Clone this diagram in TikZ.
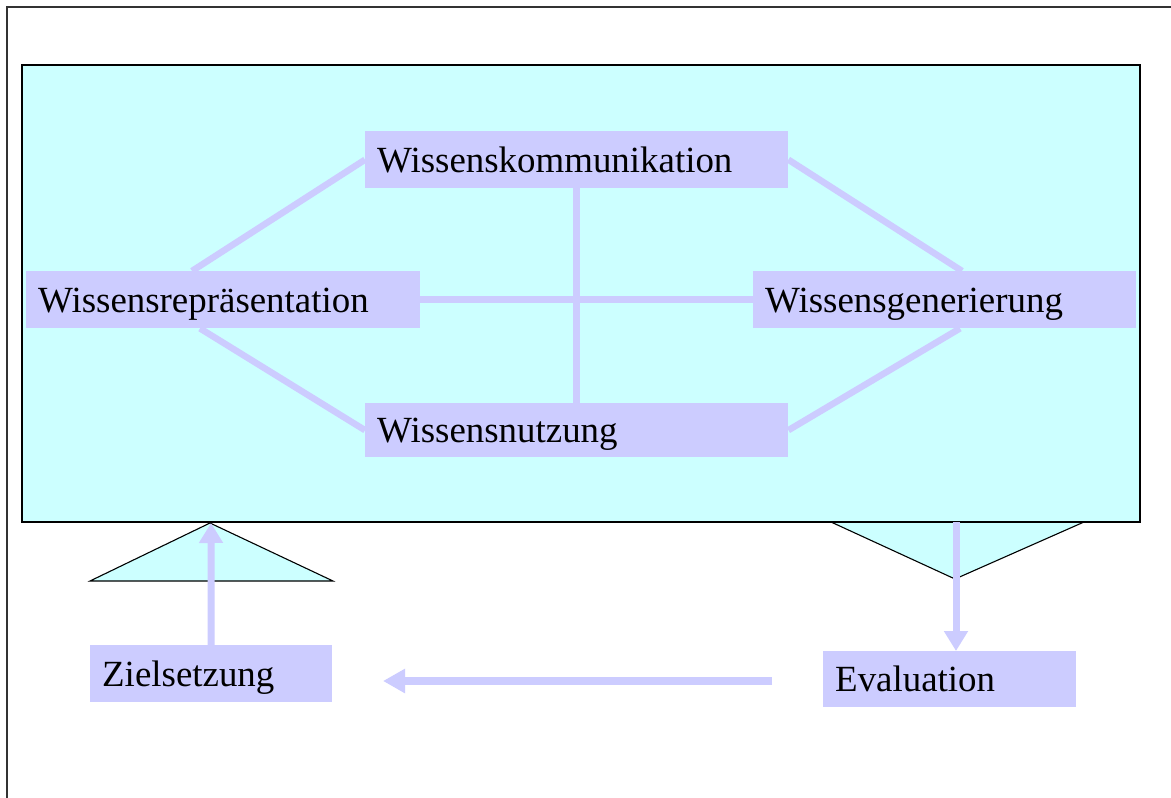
\documentclass[tikz,border=0pt]{standalone}
\usepackage{fontspec}
\setmainfont{Liberation Serif}
\usetikzlibrary{arrows.meta}
\definecolor{cyanbg}{HTML}{CCFFFF}
\definecolor{boxc}{HTML}{CCCCFF}
\tikzset{
  kbox/.style={fill=boxc, draw=none, anchor=north west, inner xsep=12pt, inner ysep=0pt,
    align=left, font=\fontsize{36.9pt}{40pt}\selectfont, text height=25.7pt, text depth=0.7pt},
  link/.style={draw=boxc, line width=6.5pt},
  arr/.style={draw=boxc, line width=7pt, -{Triangle[length=20pt,width=23pt]}},
  frameline/.style={draw=black!80, line width=2pt},
  tri/.style={fill=cyanbg, draw=black, line width=1.1pt, line join=miter}
}
\begin{document}
\begin{tikzpicture}[x=1pt,y=-1pt]
\useasboundingbox (0,0) rectangle (1171,798);
\fill[white] (0,0) rectangle (1171,798);
% outer frame (left and top visible)
\draw[frameline] (7,798) -- (7,7) -- (1171,7);
% triangles below the cyan panel
\fill[cyanbg] (210,523) -- (90,581) -- (333,581) -- cycle;
\draw[black, line width=1.1pt] (90,581) -- (210,523) -- (333,581) -- cycle;
\fill[cyanbg] (831,522) -- (955,579) -- (1084,522) -- cycle;
\draw[black, line width=1.1pt] (831,522) -- (955,579) -- (1084,522);
% main cyan panel
\draw[fill=cyanbg, draw=black, line width=1.2pt] (22,65) rectangle (1140,522);
% nodes
\node[kbox, text width=399, minimum height=57] (kom) at (365,131) {Wissenskommunikation};
\node[kbox, text width=399, minimum height=54] (nut) at (365,403) {Wissensnutzung};
\node[kbox, text width=370, minimum height=57] (rep) at (26,271) {Wissensrepräsentation};
\node[kbox, text width=359, minimum height=57] (gen) at (753,271) {Wissensgenerierung};
\node[kbox, text width=218, minimum height=57] (ziel) at (90,645) {Zielsetzung};
\node[kbox, text width=229, minimum height=56] (eval) at (823,651) {Evaluation};
% links
\draw[link] ([xshift=166]rep.north west) -- (kom.west);
\draw[link] ([xshift=174]rep.south west) -- (nut.west);
\draw[link] (kom.east) -- ([xshift=209]gen.north west);
\draw[link] (nut.east) -- ([xshift=207]gen.south west);
\draw[link] (rep.east) -- (gen.west);
\draw[link] (kom.south) -- (nut.north);
% arrows
\coordinate (tipL) at (211,523);
\coordinate (tipR) at (956,522);
\coordinate (hs) at (772,681);
\coordinate (he) at (383,681);
\draw[arr] (ziel.north) -- (tipL);
\draw[arr] (tipR) -- (tipR |- eval.north);
\draw[arr, line width=8pt, -{Triangle[length=22pt,width=23pt]}] (hs) -- (he);
\end{tikzpicture}
\end{document}
